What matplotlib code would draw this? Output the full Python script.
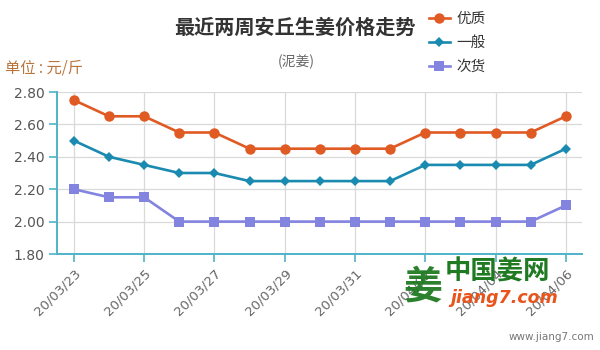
import matplotlib
matplotlib.use("Agg")
import matplotlib.pyplot as plt

plt.rcParams['font.family'] = ['Noto Sans CJK SC', 'DejaVu Sans']

dates = ["20/03/23", "20/03/24", "20/03/25", "20/03/26", "20/03/27", "20/03/28",
         "20/03/29", "20/03/30", "20/03/31", "20/04/01", "20/04/02", "20/04/03",
         "20/04/04", "20/04/05", "20/04/06"]
premium = [2.75, 2.65, 2.65, 2.55, 2.55, 2.45, 2.45, 2.45, 2.45, 2.45,
           2.55, 2.55, 2.55, 2.55, 2.65]
regular = [2.50, 2.40, 2.35, 2.30, 2.30, 2.25, 2.25, 2.25, 2.25, 2.25,
           2.35, 2.35, 2.35, 2.35, 2.45]
inferior = [2.20, 2.15, 2.15, 2.00, 2.00, 2.00, 2.00, 2.00, 2.00, 2.00,
            2.00, 2.00, 2.00, 2.00, 2.10]
series_names = ["优质", "一般", "次货"]
y_ticks = [1.80, 2.00, 2.20, 2.40, 2.60, 2.80]

axis_color = "#4fb3c8"
colors = ["#e05a24", "#1a8ab0", "#8383e0"]
markers = ["o", "D", "s"]
msizes = [7.5, 5.5, 7.5]

fig = plt.figure(figsize=(6, 3.5), dpi=100)
ax = fig.add_axes([57 / 600, 1 - 254 / 350, (582 - 57) / 600, (254 - 92) / 350])

x = list(range(len(dates)))
for vals, name, c, m, ms in zip([premium, regular, inferior], series_names, colors, markers, msizes):
    ax.plot(x, vals, color=c, lw=1.9, marker=m, markersize=ms, markeredgewidth=0,
            label=name, zorder=3, clip_on=False)

ax.set_xlim(-0.48, 14.46)
ax.set_ylim(1.80, 2.80)
ax.set_yticks(y_ticks)
ax.set_yticklabels([f"{v:.2f}" for v in y_ticks], fontsize=10, color="#555555",
                   family="DejaVu Sans")
ticks_x = x[::2]
ax.set_xticks(ticks_x)
ax.set_xticklabels([dates[i] for i in ticks_x], rotation=45, ha="right",
                   rotation_mode="anchor", fontsize=9.5, color="#666666", family="DejaVu Sans")

ax.grid(True, color="#d9d9d9", lw=0.9, zorder=0)
for s in ["top", "right"]:
    ax.spines[s].set_visible(False)
for s in ["left", "bottom"]:
    ax.spines[s].set_color(axis_color)
    ax.spines[s].set_linewidth(1.4)
ax.tick_params(axis="both", colors=axis_color, length=6, width=1.2)
ax.tick_params(axis="x", labelcolor="#666666", pad=3)
ax.tick_params(axis="y", labelcolor="#555555", pad=3)

fig.text(295 / 600, 1 - 27 / 350, "最近两周安丘生姜价格走势", ha="center", va="center",
         fontsize=14.5, fontweight="bold", color="#333333")
fig.text(296 / 600, 1 - 62 / 350, "(泥姜)", ha="center", va="center",
         fontsize=10, color="#666666")
fig.text(5 / 600, 1 - 68 / 350, "单位 : 元/斤", ha="left", va="center",
         fontsize=11, color="#b8743a")

leg = fig.legend(loc="upper left", bbox_to_anchor=(416 / 600, 1 + 1 / 350), frameon=False,
                 fontsize=10.5, handlelength=1.4, handletextpad=0.45, labelspacing=0.68)
for t in leg.get_texts():
    t.set_color("#333333")

# site watermark
fig.text(423 / 600, 1 - 287 / 350, "姜", ha="center", va="center", fontsize=28,
         fontweight="bold", color="#1f7a22", alpha=0.95)
fig.text(445 / 600, 1 - 272 / 350, "中国姜网", ha="left", va="center", fontsize=19,
         fontweight="bold", color="#1f7a22")
fig.text(450 / 600, 1 - 298 / 350, "jiang7.com", ha="left", va="center", fontsize=12.5,
         fontweight="bold", fontstyle="italic", color="#e8541c", family="DejaVu Sans")
fig.text(594 / 600, 1 - 337 / 350, "www.jiang7.com", ha="right", va="center", fontsize=7.5,
         color="#777777", family="DejaVu Sans")

fig.savefig("out.png", dpi=100)
